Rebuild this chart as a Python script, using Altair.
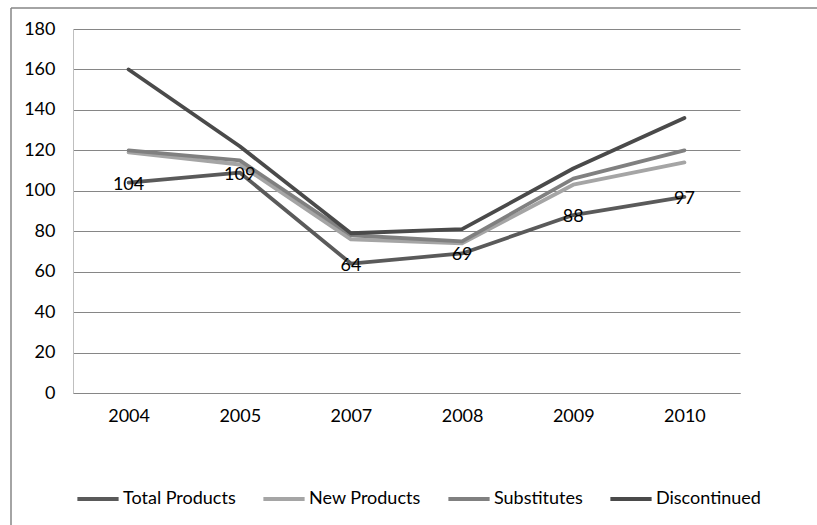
import altair as alt
import pandas as pd

years = ["2004", "2005", "2007", "2008", "2009", "2010"]
total_products = [104, 109, 64, 69, 88, 97]
new_products = [119, 113, 76, 74, 103, 114]
substitutes = [120, 115, 78, 75, 106, 120]
discontinued = [160, 122, 79, 81, 111, 136]

series_names = ["Total Products", "New Products", "Substitutes", "Discontinued"]
series_colors = ["#5a5a5a", "#a5a5a5", "#808080", "#4a4a4a"]

rows = []
for name, vals in zip(series_names, [total_products, new_products, substitutes, discontinued]):
    for i, (y, v) in enumerate(zip(years, vals)):
        rows.append({"year": y, "value": v, "series": name, "order": series_names.index(name)})
df = pd.DataFrame(rows)
labels_df = pd.DataFrame({"year": years, "value": total_products})

FONT = "Lato"

x_enc = alt.X("year:N", sort=years, title=None,
              scale=alt.Scale(paddingInner=0, paddingOuter=0.5, align=0.5),
              axis=alt.Axis(labelAngle=0, ticks=False, labelPadding=14, labelFontSize=18,
                            labelFont=FONT, labelColor="#000000", domainColor="#868686",
                            domainWidth=1, grid=False))
y_enc = alt.Y("value:Q", title=None,
              scale=alt.Scale(domain=[0, 180], nice=False, zero=True),
              axis=alt.Axis(values=list(range(0, 181, 20)), ticks=False, labelPadding=18,
                            labelFontSize=18, labelFont=FONT, labelColor="#000000",
                            domainColor="#bfbfbf", grid=True, gridColor="#868686",
                            gridWidth=1))

lines = alt.Chart(df).mark_line(strokeWidth=3.8, strokeCap="round", strokeJoin="round").encode(
    x=x_enc,
    y=y_enc,
    color=alt.Color("series:N", sort=series_names,
                    scale=alt.Scale(domain=series_names, range=series_colors),
                    legend=alt.Legend(title=None, orient="none", direction="horizontal",
                                      legendX=2, legendY=447, symbolType="stroke",
                                      symbolSize=1700, symbolStrokeWidth=4,
                                      labelFontSize=18, labelFont=FONT, labelColor="#000000",
                                      labelOffset=2, columnPadding=19)),
    order=alt.Order("order:Q"),
    detail="series:N",
)

texts = alt.Chart(labels_df).mark_text(fontSize=18, font=FONT, color="#000000",
                                       baseline="middle", align="center", dy=2).encode(
    x=alt.X("year:N", sort=years),
    y=alt.Y("value:Q"),
    text=alt.Text("value:Q"),
)

border_top = alt.Chart(pd.DataFrame({"a": [0]})).mark_rule(color="#868686", strokeWidth=1.5).encode(
    x=alt.value(-62), x2=alt.value(760), y=alt.value(-21))
border_left = alt.Chart(pd.DataFrame({"a": [0]})).mark_rule(color="#868686", strokeWidth=1.5).encode(
    x=alt.value(-62), y=alt.value(-21), y2=alt.value(520))

chart = alt.layer(border_top, border_left, lines, texts).properties(
    width=667, height=364,
    padding={"left": 73, "top": 29, "right": 77, "bottom": 132},
    autosize=alt.AutoSizeParams(type="none"),
    background="#ffffff",
).configure_view(stroke=None)

chart.save("out.html", embed_options={"renderer": "svg", "actions": False})
